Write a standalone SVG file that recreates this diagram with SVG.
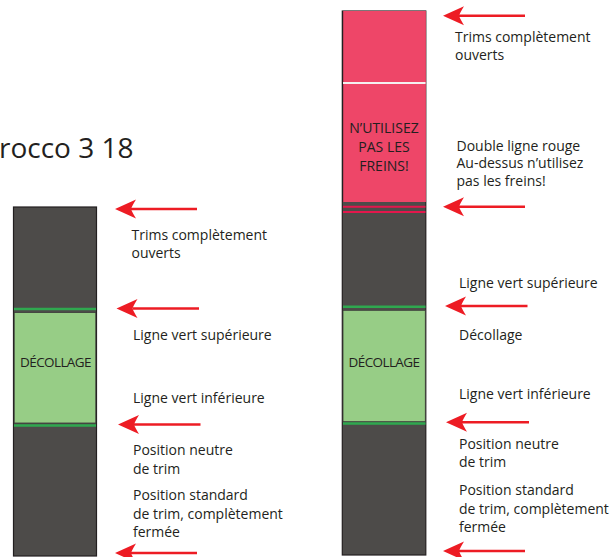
<svg xmlns="http://www.w3.org/2000/svg" width="610" height="557" viewBox="0 0 610 557">
<style>
  text { font-family: "Open Sans", "Liberation Sans", sans-serif; fill: #231f20; }
  .lbl { font-size: 14px; }
  .title { font-size: 28px; }
  .cap { font-size: 13.5px; text-anchor: middle; letter-spacing: -0.6px; }
  .warn { font-size: 14px; text-anchor: middle; }
  .dark { fill: #4d4b49; stroke: #231f20; stroke-width: 1.2; }
  .lgreen { fill: #97cd86; stroke: #3a3a38; stroke-width: 0.8; }
  .gline { stroke: #2fa84f; stroke-width: 2.6; }
  .rline { stroke: #e3174c; stroke-width: 2; }
  .arrow { stroke: #ed1c24; stroke-width: 2.4; fill: none; marker-end: url(#head); }
</style>
<defs>
  <marker id="head" markerUnits="userSpaceOnUse" viewBox="-23 -10 24 20" markerWidth="24" markerHeight="20" refX="-16" refY="0" orient="auto">
    <path d="M0,0 L-21,-9.5 Q-17,-3 -16,0 Q-17,3 -21,9.5 Z" fill="#ed1c24"/>
  </marker>
</defs>

<g id="title">
  <text class="title" x="-1" y="158">rocco 3 18</text>
</g>

<g id="left-bar">
  <rect class="dark" x="13.5" y="207" width="83" height="349"/>
  <rect class="lgreen" x="14.2" y="312.5" width="81.6" height="110.5"/>
  <line class="gline" x1="14" y1="309" x2="96" y2="309"/>
  <line class="gline" x1="14" y1="425.5" x2="96" y2="425.5"/>
  <text class="cap" x="55.5" y="366.7">DÉCOLLAGE</text>
</g>

<g id="right-bar">
  <rect class="dark" x="342.3" y="11" width="83.5" height="544"/>
  <rect x="342.9" y="11" width="83" height="191" fill="#ee4668"/>
  <line x1="342.6" y1="11" x2="342.6" y2="202" stroke="#231f20" stroke-width="1.2"/>
  <line x1="343" y1="83" x2="425.5" y2="83" stroke="#f4f0f0" stroke-width="2"/>
  <line class="rline" x1="343" y1="206.8" x2="425.5" y2="206.8"/>
  <line class="rline" x1="343" y1="212" x2="425.5" y2="212"/>
  <rect class="lgreen" x="343" y="310.3" width="82.3" height="111.4"/>
  <line class="gline" x1="343" y1="306.7" x2="425.5" y2="306.7"/>
  <line class="gline" x1="343" y1="423.5" x2="425.5" y2="423.5"/>
  <text class="warn" x="384" y="132.5">N’UTILISEZ</text>
  <text class="warn" x="384" y="151.5">PAS LES</text>
  <text class="warn" x="384" y="170.5">FREINS!</text>
  <text class="cap" x="384" y="366.7">DÉCOLLAGE</text>
</g>

<g id="left-labels">
  <text class="lbl" x="131.5" y="240">Trims complètement</text>
  <text class="lbl" x="131.5" y="258">ouverts</text>
  <text class="lbl" x="133" y="340">Ligne vert supérieure</text>
  <text class="lbl" x="133" y="403">Ligne vert inférieure</text>
  <text class="lbl" x="133" y="455">Position neutre</text>
  <text class="lbl" x="133" y="473.5">de trim</text>
  <text class="lbl" x="133" y="500">Position standard</text>
  <text class="lbl" x="133" y="518.5">de trim, complètement</text>
  <text class="lbl" x="133" y="537">fermée</text>
</g>

<g id="right-labels">
  <text class="lbl" x="455" y="41.5">Trims complètement</text>
  <text class="lbl" x="455" y="60">ouverts</text>
  <text class="lbl" x="456.5" y="150.5">Double ligne rouge</text>
  <text class="lbl" x="456.5" y="168.3">Au-dessus n’utilisez</text>
  <text class="lbl" x="456.5" y="186.3">pas les freins!</text>
  <text class="lbl" x="459" y="287.5">Ligne vert supérieure</text>
  <text class="lbl" x="459" y="340">Décollage</text>
  <text class="lbl" x="459" y="398.5">Ligne vert inférieure</text>
  <text class="lbl" x="459" y="448.5">Position neutre</text>
  <text class="lbl" x="459" y="467">de trim</text>
  <text class="lbl" x="459" y="495">Position standard</text>
  <text class="lbl" x="459" y="513.5">de trim, complètement</text>
  <text class="lbl" x="459" y="532">fermée</text>
</g>

<g id="connectors">
  <line class="arrow" x1="197" y1="209" x2="131" y2="209"/>
  <line class="arrow" x1="199" y1="308.5" x2="132.5" y2="308.5"/>
  <line class="arrow" x1="200.5" y1="424.5" x2="134" y2="424.5"/>
  <line class="arrow" x1="197" y1="553" x2="131" y2="553"/>
  <line class="arrow" x1="525" y1="15.7" x2="459" y2="15.7"/>
  <line class="arrow" x1="525" y1="206.7" x2="459" y2="206.7"/>
  <line class="arrow" x1="527.5" y1="306" x2="461" y2="306"/>
  <line class="arrow" x1="529" y1="422.3" x2="462" y2="422.3"/>
  <line class="arrow" x1="525" y1="551" x2="459" y2="551"/>
</g>
</svg>
